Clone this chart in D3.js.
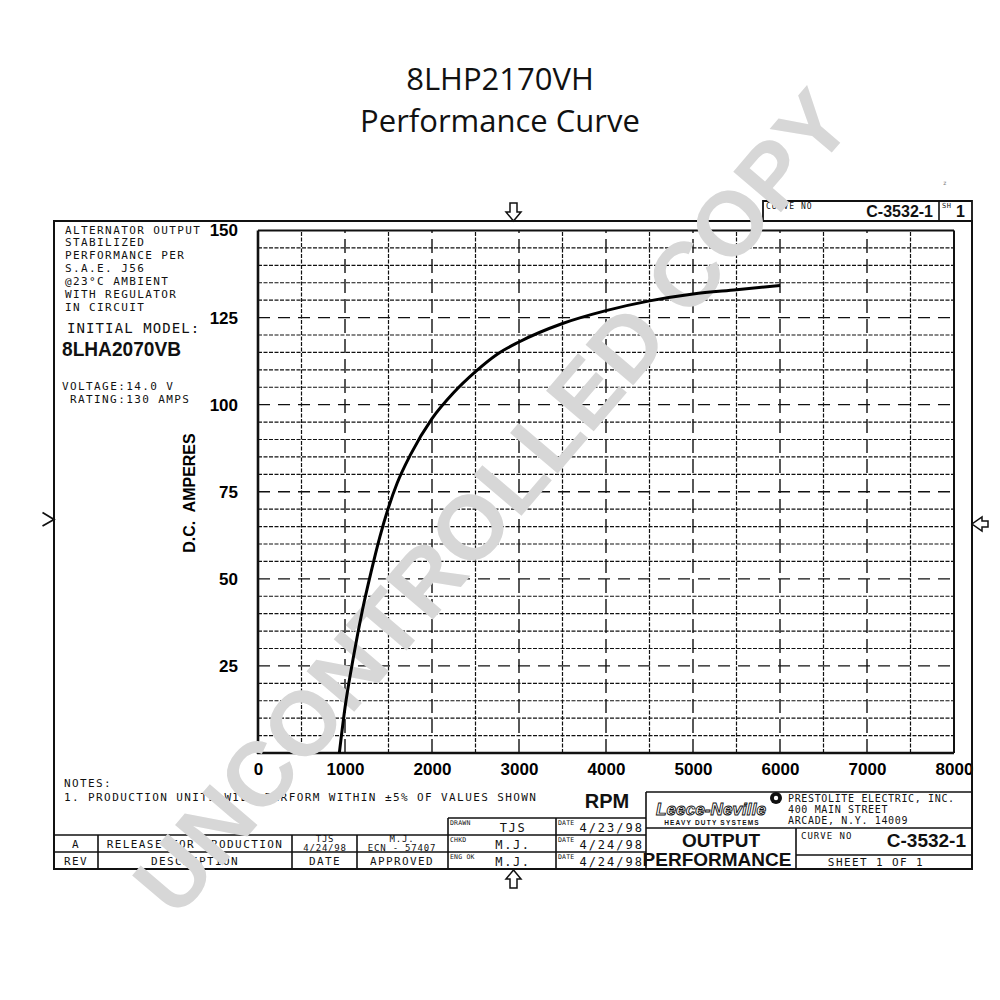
<!DOCTYPE html>
<html>
<head>
<meta charset="utf-8">
<script src="https://cdn.jsdelivr.net/npm/d3@7"></script>
<style>
  body { margin: 0; background: #fff; }
  svg { display: block; }
</style>
</head>
<body>
<svg id="chart" width="1000" height="1000"></svg>
<script>
// curve: RPM vs D.C. amperes
const rpm  = [935, 1000, 1100, 1200, 1300, 1400, 1500, 1600, 1750, 2000, 2250, 2500, 2750, 3000, 3500, 4000, 4500, 5000, 5500, 6000];
const amps = [0, 13, 28, 41, 52, 62, 70.5, 77.5, 85.5, 96, 103.5, 109.5, 114.5, 118, 123.3, 127, 129.8, 131.8, 133, 134.2];

const xTicks = [0, 1000, 2000, 3000, 4000, 5000, 6000, 7000, 8000];
const yTicks = [25, 50, 75, 100, 125, 150];
const xMinor = d3.range(500, 8000, 1000);
const yMinor = d3.range(5, 150, 5).filter(v => v % 25 !== 0);

const specLines = ["ALTERNATOR OUTPUT", "STABILIZED", "PERFORMANCE PER", "S.A.E. J56",
  "@23°C AMBIENT", "WITH REGULATOR", "IN CIRCUIT"];

const svg = d3.select("#chart");
const x = d3.scaleLinear().domain([0, 8000]).range([258, 954]);
const y = d3.scaleLinear().domain([0, 150]).range([753, 230.5]);

const MONO = "'DejaVu Sans Mono', monospace";
const BOLD = "'Liberation Sans', Arial, sans-serif";

const txt = (px, py, s, o = {}) => {
  const t = svg.append("text")
    .attr("x", px).attr("y", py)
    .attr("text-anchor", o.anchor || "start")
    .style("font-family", o.family || MONO)
    .style("font-size", (o.size || 11) + "px")
    .style("font-weight", o.weight || "normal")
    .style("letter-spacing", (o.ls == null ? 1.4 : o.ls) + "px")
    .style("white-space", "pre")
    .attr("fill", o.fill || "#111")
    .text(s);
  if (o.len) t.attr("textLength", o.len).attr("lengthAdjust", "spacingAndGlyphs");
  if (o.style) t.attr("font-style", o.style);
  return t;
};
const seg = (x1, y1, x2, y2, w = 1.6) => svg.append("line")
  .attr("x1", x1).attr("y1", y1).attr("x2", x2).attr("y2", y2)
  .attr("stroke", "#111").attr("stroke-width", w);

// title
txt(500, 90, "8LHP2170VH", {anchor: "middle", family: "'Open Sans', sans-serif", size: 31, ls: 0});
txt(500, 132, "Performance Curve", {anchor: "middle", family: "'Open Sans', sans-serif", size: 31, ls: 0});

// grid
const grid = svg.append("g").attr("stroke", "#111").attr("fill", "none");
grid.selectAll("line.hmin").data(yMinor).join("line").attr("class", "hmin")
  .attr("x1", x(0)).attr("x2", x(8000)).attr("y1", d => y(d)).attr("y2", d => y(d))
  .attr("stroke-width", 1.2).attr("stroke-dasharray", "4,1.5");
grid.selectAll("line.vmin").data(xMinor).join("line").attr("class", "vmin")
  .attr("y1", y(0)).attr("y2", y(150)).attr("x1", d => x(d)).attr("x2", d => x(d))
  .attr("stroke-width", 1.2).attr("stroke-dasharray", "4,1.5");
grid.selectAll("line.hmaj").data(yTicks.filter(v => v < 150)).join("line").attr("class", "hmaj")
  .attr("x1", x(0)).attr("x2", x(8000)).attr("y1", d => y(d)).attr("y2", d => y(d))
  .attr("stroke-width", 1.4).attr("stroke-dasharray", "12,8");
grid.selectAll("line.vmaj").data(xTicks.filter(v => v > 0 && v < 8000)).join("line").attr("class", "vmaj")
  .attr("y1", y(0)).attr("y2", y(150)).attr("x1", d => x(d)).attr("x2", d => x(d))
  .attr("stroke-width", 1.4).attr("stroke-dasharray", "14,6");

// plot border
seg(x(0), y(150), x(8000), y(150), 2);
seg(x(8000), y(150), x(8000), y(0), 2);
seg(x(0), y(150), x(0), y(0) + 1, 2.6);
seg(x(0) - 1, y(0), x(8000), y(0), 2.6);

// axes (labels only)
svg.append("g").attr("transform", `translate(${x(0)},0)`)
  .call(d3.axisLeft(y).tickValues(yTicks).tickSize(0).tickPadding(20))
  .call(g => g.select(".domain").remove())
  .selectAll("text").style("font-family", BOLD).style("font-weight", "bold").style("font-size", "17px");
svg.append("g").attr("transform", `translate(0,${y(0)})`)
  .call(d3.axisBottom(x).tickValues(xTicks).tickFormat(d3.format("d")).tickSize(0).tickPadding(10))
  .call(g => g.select(".domain").remove())
  .selectAll("text").style("font-family", BOLD).style("font-weight", "bold").style("font-size", "17px");

txt(607, 808, "RPM", {anchor: "middle", family: BOLD, weight: "bold", size: 20, ls: 0});
svg.append("text")
  .attr("transform", "translate(195,493) rotate(-90)")
  .attr("text-anchor", "middle")
  .style("font-family", BOLD).style("font-weight", "bold").style("font-size", "16px")
  .style("white-space", "pre")
  .text("D.C.  AMPERES");

// outer frame
svg.append("rect").attr("x", 54).attr("y", 221).attr("width", 918).attr("height", 648)
  .attr("fill", "none").attr("stroke", "#111").attr("stroke-width", 2);

// top-right curve block
svg.append("path").attr("d", "M763,221V201H972V221").attr("fill", "none").attr("stroke", "#111").attr("stroke-width", 1.8);
seg(939, 201, 939, 221);
txt(766, 209, "CURVE NO", {size: 8, ls: 1});
txt(933, 217, "C-3532-1", {anchor: "end", family: BOLD, weight: "bold", size: 16, ls: 0});
txt(942, 208, "SH", {size: 7, ls: 0.5});
txt(956, 217, "1", {family: BOLD, weight: "bold", size: 16, ls: 0});
txt(943, 185, "z", {size: 6, ls: 0, fill: "#777"});

// frame markers
svg.append("path").attr("d", "M510,203H517V212H521L513.5,221L506,212H510Z")
  .attr("fill", "#fff").attr("stroke", "#111").attr("stroke-width", 1.5);
svg.append("path").attr("d", "M510,888H517V879H521L513.5,870L506,879H510Z")
  .attr("fill", "#fff").attr("stroke", "#111").attr("stroke-width", 1.5);
svg.append("path").attr("d", "M988,521V527H982V531L972,524L982,517V521Z")
  .attr("fill", "#fff").attr("stroke", "#111").attr("stroke-width", 1.5);
svg.append("path").attr("d", "M42.5,512.5L54,519.5L42.5,526")
  .attr("fill", "none").attr("stroke", "#111").attr("stroke-width", 1.8);

// spec text block
specLines.forEach((s, i) => txt(65, 233.5 + i * 12.9, s));
txt(67, 333, "INITIAL MODEL:", {size: 14, ls: 1.1});
txt(62, 356, "8LHA2070VB", {family: BOLD, weight: "bold", size: 20, ls: 0, len: 119});
txt(62, 390, "VOLTAGE:14.0 V");
txt(70, 403, "RATING:130 AMPS");

// notes
txt(64, 787, "NOTES:");
txt(64, 801, "1. PRODUCTION UNITS WILL PERFORM WITHIN ±5% OF VALUES SHOWN");

// revision / approval table
seg(448, 818, 646, 818);
seg(54, 835, 646, 835);
seg(54, 852, 646, 852);
[98, 292, 357].forEach(v => seg(v, 835, v, 869));
[448, 556].forEach(v => seg(v, 818, v, 869));
txt(76, 848, "A", {anchor: "middle"});
txt(195, 848, "RELEASE FOR PRODUCTION", {anchor: "middle"});
txt(325, 842, "TJS", {anchor: "middle", size: 9, ls: 0.8});
txt(325, 851, "4/24/98", {anchor: "middle", size: 9, ls: 0.8});
txt(402, 842, "M.J.", {anchor: "middle", size: 9, ls: 0.8});
txt(402, 851, "ECN - 57407", {anchor: "middle", size: 9, ls: 0.8});
txt(76, 865, "REV", {anchor: "middle"});
txt(195, 865, "DESCRIPTION", {anchor: "middle"});
txt(325, 865, "DATE", {anchor: "middle"});
txt(402, 865, "APPROVED", {anchor: "middle"});
[["DRAWN", "TJS", "4/23/98"], ["CHKD", "M.J.", "4/24/98"], ["ENG OK", "M.J.", "4/24/98"]].forEach((r, i) => {
  const top = 818 + i * 17;
  txt(450, top + 7, r[0], {size: 6.5, ls: 0.2});
  txt(513, top + 14, r[1], {anchor: "middle", size: 12, ls: 1.6});
  txt(558, top + 7, "DATE", {size: 6.5, ls: 0.2});
  txt(644, top + 14, r[2], {anchor: "end", size: 12, ls: 2});
});

// title block
seg(646, 792, 972, 792);
seg(646, 792, 646, 869);
seg(646, 828, 972, 828);
seg(796, 828, 796, 869);
seg(796, 855, 972, 855);
txt(711, 815, "Leece-Neville", {anchor: "middle", family: BOLD, weight: "bold", style: "italic", size: 17, ls: 0, len: 110})
  .attr("fill", "#fff").attr("stroke", "#111").attr("stroke-width", 0.9);
txt(712, 824.5, "HEAVY DUTY SYSTEMS", {anchor: "middle", family: BOLD, weight: "bold", size: 6.5, ls: 1.2});
svg.append("circle").attr("cx", 776).attr("cy", 798).attr("r", 6).attr("fill", "#111");
svg.append("circle").attr("cx", 776).attr("cy", 798).attr("r", 2.2).attr("fill", "#fff");
txt(788, 802, "PRESTOLITE ELECTRIC, INC.", {size: 10, ls: 0.65});
txt(788, 813, "400 MAIN STREET", {size: 10, ls: 0.65});
txt(788, 824, "ARCADE, N.Y. 14009", {size: 10, ls: 0.65});
txt(721, 847, "OUTPUT", {anchor: "middle", family: BOLD, weight: "bold", size: 19, ls: 0});
txt(717, 866, "PERFORMANCE", {anchor: "middle", family: BOLD, weight: "bold", size: 19, ls: 0});
txt(801, 839, "CURVE NO", {size: 9, ls: 1});
txt(966, 847, "C-3532-1", {anchor: "end", family: BOLD, weight: "bold", size: 19, ls: 0});
txt(876, 866, "SHEET 1 OF 1", {anchor: "middle", size: 11, ls: 1.4});

// watermark
svg.append("text")
  .attr("transform", "translate(492,502) rotate(-49.5)")
  .attr("text-anchor", "middle").attr("dominant-baseline", "central")
  .style("font-family", BOLD).style("font-weight", "bold").style("font-size", "91px")
  .attr("fill", "#d7d7d7")
  .text("UNCONTROLLED COPY");

// performance curve
const pts = rpm.map((r, i) => [r, amps[i]]);
const line = d3.line().x(d => x(d[0])).y(d => y(d[1])).curve(d3.curveMonotoneX);
svg.append("path").datum(pts).attr("d", line)
  .attr("fill", "none").attr("stroke", "#000").attr("stroke-width", 3);
</script>
</body>
</html>
